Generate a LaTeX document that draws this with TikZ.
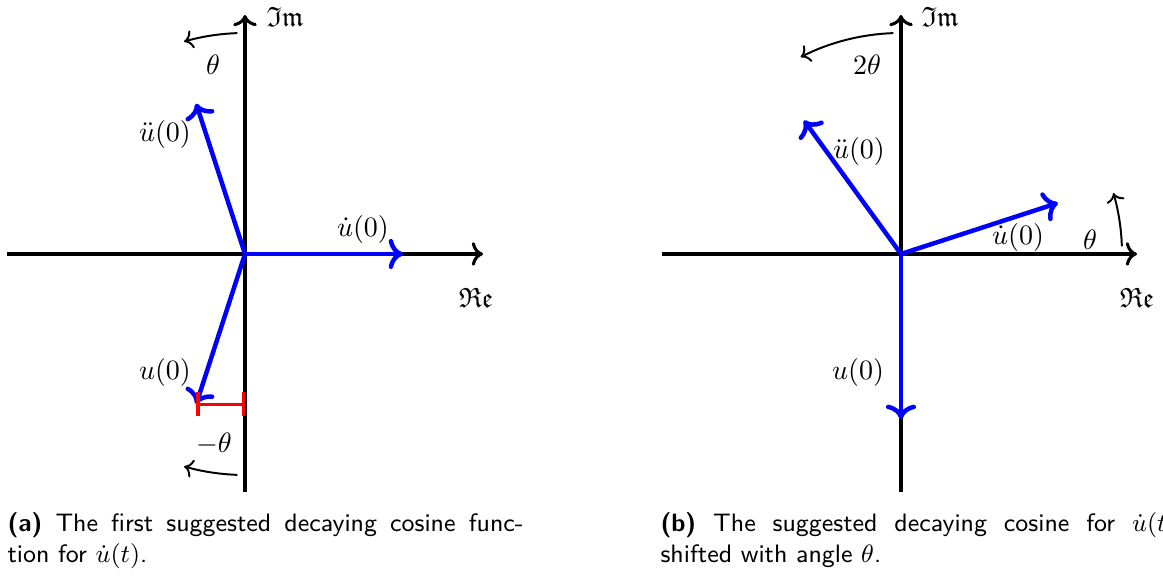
\documentclass[tikz,border=0pt]{standalone}
\usepackage{amssymb}
\usetikzlibrary{arrows.meta}
\begin{document}
\begin{tikzpicture}[x=0.35714pt,y=0.35714pt,
  axis/.style={line width=1.1pt,->},
  vec/.style={blue,line width=1.6pt,->},
  rot/.style={line width=0.7pt,->},
  lbl/.style={inner sep=0pt},
  capline/.style={anchor=base west,inner sep=0pt,font=\small\sffamily}]
\useasboundingbox (0,0) rectangle (1163,577);
\clip (0,0) rectangle (1163,577);
% ---------- (a) ----------
\begin{scope}[shift={(245,323)}]
  \coordinate (Oa) at (0,0);
  \coordinate (aL) at (-238,0); \coordinate (aR) at (238,0);
  \coordinate (aB) at (0,-238); \coordinate (aT) at (0,239);
  \draw[axis] (aL) -- (aR);
  \draw[axis] (aB) -- (aT);
  \coordinate (aud) at (158,0);
  \coordinate (audd) at (108:158);
  \coordinate (au) at (252:158);
  \draw[vec] (Oa) -- (aud);
  \draw[vec] (Oa) -- (audd);
  \draw[vec] (Oa) -- (au);
  \draw[red,line width=1.2pt,{Bar[width=8.6pt]}-{Bar[width=8.6pt]}] (au) -- (au -| Oa);
  \coordinate (arcA1) at (92:221);
  \draw[rot] (arcA1) arc[start angle=92,end angle=106,radius=221];
  \coordinate (arcA2) at (268:221);
  \draw[rot] (arcA2) arc[start angle=268,end angle=254,radius=221];
  \node[lbl] (aIm) at (40,237) {$\mathfrak{Im}$};
  \node[lbl] (aRe) at (231,-44) {$\mathfrak{Re}$};
  \node[lbl] (athA) at (-32,189) {$\theta$};
  \node[lbl] (athB) at (-31,-190) {$-\theta$};
  \node[lbl] (audl) at (118,24) {$\dot{u}(0)$};
  \node[lbl] (auddl) at (-80,119) {$\ddot{u}(0)$};
  \node[lbl] (aul) at (-80,-119) {$u(0)$};
\end{scope}
% ---------- (b) ----------
\begin{scope}[shift={(901,323)}]
  \coordinate (Ob) at (0,0);
  \coordinate (bL) at (-239,0); \coordinate (bR) at (236,0);
  \coordinate (bB) at (0,-238); \coordinate (bT) at (0,239);
  \draw[axis] (bL) -- (bR);
  \draw[axis] (bB) -- (bT);
  \coordinate (bud) at (18:165);
  \coordinate (budd) at (126:165);
  \coordinate (bu) at (270:165);
  \draw[vec] (Ob) -- (bud);
  \draw[vec] (Ob) -- (budd);
  \draw[vec] (Ob) -- (bu);
  \coordinate (arcB1) at (92:221);
  \draw[rot] (arcB1) arc[start angle=92,end angle=117,radius=221];
  \coordinate (arcB2) at (2:221);
  \draw[rot] (arcB2) arc[start angle=2,end angle=16,radius=221];
  \node[lbl] (bIm) at (39,237) {$\mathfrak{Im}$};
  \node[lbl] (bRe) at (236,-44) {$\mathfrak{Re}$};
  \node[lbl] (bth2) at (-34,189) {$2\theta$};
  \node[lbl] (bth) at (189,14) {$\theta$};
  \node[lbl] (budl) at (117,16) {$\dot{u}(0)$};
  \node[lbl] (buddl) at (-42,102) {$\ddot{u}(0)$};
  \node[lbl] (bul) at (-43,-119) {$u(0)$};
\end{scope}
% ---------- captions ----------
\node[capline] (capa1) at (7,45) {\makebox[184.3pt][s]{\textbf{(a)} The first suggested decaying cosine func-}};
\node[capline] (capa2) at (7,14) {tion for $\dot{u}(t)$.};
\node[capline] (capb1) at (660,45) {\makebox[184.3pt][s]{\textbf{(b)} The suggested decaying cosine for $\dot{u}(t)$}};
\node[capline] (capb2) at (660,14) {shifted with angle $\theta$.};
\end{tikzpicture}
\end{document}
